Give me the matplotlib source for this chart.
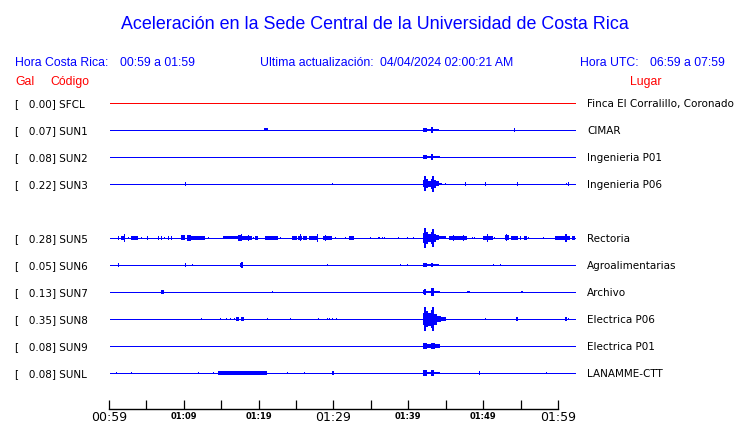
import matplotlib
matplotlib.use("Agg")
import matplotlib.pyplot as plt
import matplotlib.transforms as mtransforms

# stations, peak acceleration (Gal) and place, top to bottom
stations = ["SFCL", "SUN1", "SUN2", "SUN3", "SUN5", "SUN6", "SUN7", "SUN8", "SUN9", "SUNL"]
pga = [0.00, 0.07, 0.08, 0.22, 0.28, 0.05, 0.13, 0.35, 0.08, 0.08]
places = ["Finca El Corralillo, Coronado", "CIMAR", "Ingenieria P01", "Ingenieria P06",
          "Rectoria", "Agroalimentarias", "Archivo", "Electrica P06", "Electrica P01",
          "LANAMME-CTT"]
rows = [0, 1, 2, 3, 5, 6, 7, 8, 9, 10]
trace_colors = ["#ff0000"] + ["#0000ff"] * 9

# trace start / end in minutes after 00:59
trace_span = (0.13, 62.27)

# bursts: (start min, end min, half amplitude)
sfcl_bursts = []
sun1_bursts = [(20.76, 21.2, 1.5), (41.92, 42.54, 2.3), (42.54, 43.03, 1.0),
               (43.03, 43.34, 2.7), (43.34, 44.10, 1.3), (54.17, 54.17, 1.7)]
sun2_bursts = [(41.92, 42.54, 1.7), (42.54, 43.03, 1.2), (43.03, 43.34, 2.7),
               (43.34, 44.23, 1.3)]
sun3_bursts = [(10.1, 10.3, 1.7), (29.85, 29.85, 1.0),
               (41.92, 42.05, 3.5), (42.05, 42.35, 7.5), (42.35, 42.6, 4.5),
               (42.6, 43.0, 3.0), (43.0, 43.15, 5.0), (43.15, 43.4, 8.0),
               (43.4, 43.7, 4.0), (43.7, 44.1, 2.5), (44.1, 44.5, 1.2),
               (44.94, 44.94, 1.3), (47.62, 47.62, 1.7), (50.29, 50.29, 1.7),
               (54.57, 54.57, 1.7), (61.03, 61.03, 1.3), (61.38, 61.38, 1.7)]
sun5_bursts = [(1.16, 1.16, 1.7), (1.6, 2.14, 2.0), (1.95, 2.05, 3.7), (2.58, 2.58, 1.0),
               (2.94, 3.83, 1.7), (4.23, 4.23, 1.3), (5.08, 5.08, 1.7), (6.59, 6.59, 1.7),
               (6.9, 6.9, 1.7), (7.4, 7.4, 1.0), (7.93, 7.93, 1.7), (8.24, 8.24, 1.7),
               (9.62, 10.16, 2.5), (10.42, 10.96, 2.7), (10.96, 12.83, 1.7), (11.2, 11.3, 2.3),
               (13.23, 13.23, 0.8), (15.28, 17.28, 1.5), (17.28, 17.82, 2.7), (17.64, 17.73, 3.5),
               (17.82, 19.07, 1.7), (18.62, 18.62, 2.7), (19.2, 19.2, 1.3), (19.51, 19.87, 1.7),
               (20.85, 22.63, 1.7), (22.90, 22.90, 1.0), (24.41, 25.08, 1.7), (25.3, 25.75, 2.3),
               (25.48, 25.56, 3.5), (25.97, 26.5, 1.7), (26.73, 27.97, 2.0), (27.8, 27.9, 4.2),
               (28.64, 29.76, 1.7), (28.83, 28.92, 2.7), (30.20, 30.20, 1.3), (31.54, 31.54, 1.0),
               (32.12, 32.79, 2.2), (34.92, 34.92, 1.3), (35.99, 36.22, 1.3), (36.44, 36.44, 1.0),
               (36.8, 36.8, 1.0), (38.67, 38.67, 1.0), (39.87, 39.87, 1.0), (40.67, 40.67, 1.0),
               (41.92, 42.05, 5.0), (42.05, 42.35, 10.0), (42.35, 42.6, 6.0), (42.6, 43.0, 4.0),
               (43.0, 43.15, 6.0), (43.15, 43.4, 9.0), (43.4, 43.7, 4.0), (43.7, 44.1, 2.5),
               (44.1, 45.1, 1.5), (45.48, 47.8, 1.8), (45.95, 46.1, 3.0), (47.3, 47.4, 2.7),
               (48.55, 48.55, 1.0), (48.82, 48.82, 1.0), (50.0, 51.27, 2.2), (50.55, 50.65, 4.0),
               (51.49, 51.49, 1.0), (52.92, 53.5, 2.5), (53.0, 53.1, 3.5), (53.72, 54.7, 1.8),
               (54.92, 54.92, 1.7), (55.46, 55.82, 1.7), (56.04, 56.04, 1.0), (58.04, 58.04, 0.8),
               (59.6, 61.6, 2.0), (60.9, 61.2, 3.7), (61.83, 62.27, 1.7)]
sun6_bursts = [(1.16, 1.25, 1.7), (10.2, 10.2, 1.7), (11.05, 11.05, 1.3), (17.51, 17.87, 1.7),
               (17.7, 17.75, 2.7), (29.18, 29.18, 1.3), (38.93, 38.93, 0.8), (39.78, 39.9, 1.3),
               (41.92, 42.54, 1.7), (42.54, 43.03, 1.0), (43.03, 43.34, 2.3), (43.34, 44.10, 1.3),
               (51.36, 51.36, 0.8), (52.30, 52.30, 1.3)]
sun7_bursts = [(6.95, 7.31, 1.7), (21.74, 21.8, 1.3),
               (41.92, 42.05, 2.0), (42.05, 42.4, 3.0), (42.4, 43.03, 1.3), (43.03, 43.43, 3.7),
               (43.43, 44.23, 1.3), (47.84, 48.24, 1.3), (55.06, 55.28, 1.3)]
sun8_bursts = [(12.25, 12.25, 1.3), (14.83, 14.83, 0.8), (15.64, 15.64, 1.3), (16.21, 16.21, 1.3),
               (16.66, 16.66, 1.3), (16.97, 17.37, 1.7), (17.64, 18.0, 1.7), (21.07, 21.07, 1.0),
               (24.19, 24.19, 1.3), (27.88, 27.88, 1.3), (29.09, 29.09, 1.3), (29.40, 29.40, 1.0),
               (29.76, 29.76, 1.0), (30.29, 30.29, 1.3),
               (41.92, 42.05, 6.0), (42.05, 42.35, 11.7), (42.35, 42.6, 8.0), (42.6, 43.0, 6.5),
               (43.0, 43.15, 9.0), (43.15, 43.4, 12.0), (43.4, 43.8, 5.5), (43.8, 44.3, 3.0),
               (44.3, 45.1, 1.7), (50.29, 50.29, 1.0), (54.39, 54.61, 1.7), (60.94, 61.16, 1.7),
               (61.38, 61.38, 1.0)]
sun9_bursts = [(41.92, 42.54, 3.0), (42.54, 43.03, 1.7), (43.03, 43.56, 3.0), (43.56, 44.23, 1.7)]
sunl_bursts = [(0.89, 0.89, 1.3), (2.94, 2.94, 1.3), (11.85, 11.85, 1.3), (13.94, 13.94, 0.8),
               (14.52, 21.07, 1.7), (23.74, 23.74, 0.8), (26.10, 26.10, 1.3), (29.76, 30.12, 1.7),
               (41.92, 42.54, 2.7), (42.54, 43.03, 1.3), (43.03, 43.43, 3.0), (43.43, 44.23, 1.3),
               (49.49, 49.49, 1.7), (58.44, 58.44, 0.8)]
bursts = [sfcl_bursts, sun1_bursts, sun2_bursts, sun3_bursts, sun5_bursts,
          sun6_bursts, sun7_bursts, sun8_bursts, sun9_bursts, sunl_bursts]

tick_minutes = list(range(0, 61, 5))
tick_labels = ["00:59", "", "01:09", "", "01:19", "", "01:29", "", "01:39", "", "01:49", "", "01:59"]
big_labels = ["00:59", "01:29", "01:59"]

W, H = 740, 423
fig = plt.figure(figsize=(W / 100, H / 100), dpi=100)
fig.patch.set_facecolor("white")

def fx(px):
    return px / W

def fy(py):
    return 1 - py / H

# axes: x 109..558 px = 0..60 min, y 90..409 px
ax = fig.add_axes([fx(109), fy(409), fx(558) - fx(109), (409 - 90) / H])
ax.set_xlim(0, 60)
row_px = 27.0
ax.set_ylim((409 - 103) / row_px, (90 - 103) / row_px)
for s in ["top", "right", "left"]:
    ax.spines[s].set_visible(False)
ax.spines["bottom"].set_linewidth(1.0)
ax.set_yticks([])
ax.set_xticks(tick_minutes)
ax.set_xticklabels(tick_labels)
ax.tick_params(axis="x", direction="in", length=6.3, width=0.9, pad=1.5)
for lab in ax.get_xticklabels():
    if lab.get_text() in big_labels:
        lab.set_fontsize(9)
    else:
        lab.set_fontsize(6)
        lab.set_fontweight("bold")
        lab.set_y(-0.004)

for row, col, bl in zip(rows, trace_colors, bursts):
    ax.plot(trace_span, [row, row], color=col, linewidth=0.72, clip_on=False,
            antialiased=False, solid_capstyle="butt")
    for t0, t1, amp in bl:
        a = amp / row_px
        ax.bar(t0, 2 * a, width=max(t1 - t0, 0.14), bottom=row - a, align="edge",
               color=col, linewidth=0, clip_on=False, antialiased=False)

# row labels
tr = mtransforms.blended_transform_factory(fig.transFigure, ax.transData)
off = 3.7 / row_px
for row, st, g, pl in zip(rows, stations, pga, places):
    ax.text(fx(15), row + off, "[   %.2f] %s" % (g, st), transform=tr, fontsize=7.5,
            color="black", va="baseline", ha="left", family="DejaVu Sans")
    ax.text(fx(587), row + off, pl, transform=tr, fontsize=7.5,
            color="black", va="baseline", ha="left", family="DejaVu Sans")

blue = "#0000ff"
red = "#ff0000"
hf = "Liberation Sans"
fig.text(fx(375), fy(29), "Aceleración en la Sede Central de la Universidad de Costa Rica",
         ha="center", va="baseline", fontsize=12.9, color=blue, family=hf)
fig.text(fx(15), fy(66), "Hora Costa Rica:", fontsize=8.8, color=blue, family=hf, va="baseline")
fig.text(fx(120), fy(66), "00:59 a 01:59", fontsize=8.8, color=blue, family=hf, va="baseline")
fig.text(fx(260), fy(66), "Ultima actualización:", fontsize=8.8, color=blue, family=hf, va="baseline")
fig.text(fx(380), fy(66), "04/04/2024 02:00:21 AM", fontsize=8.8, color=blue, family=hf, va="baseline")
fig.text(fx(580), fy(66), "Hora UTC:", fontsize=8.8, color=blue, family=hf, va="baseline")
fig.text(fx(650), fy(66), "06:59 a 07:59", fontsize=8.8, color=blue, family=hf, va="baseline")
fig.text(fx(15), fy(85), "Gal", fontsize=8.8, color=red, family=hf, va="baseline")
fig.text(fx(50), fy(85), "Código", fontsize=8.8, color=red, family=hf, va="baseline")
fig.text(fx(630), fy(85), "Lugar", fontsize=8.8, color=red, family=hf, va="baseline")

fig.savefig("out.png", dpi=100)
